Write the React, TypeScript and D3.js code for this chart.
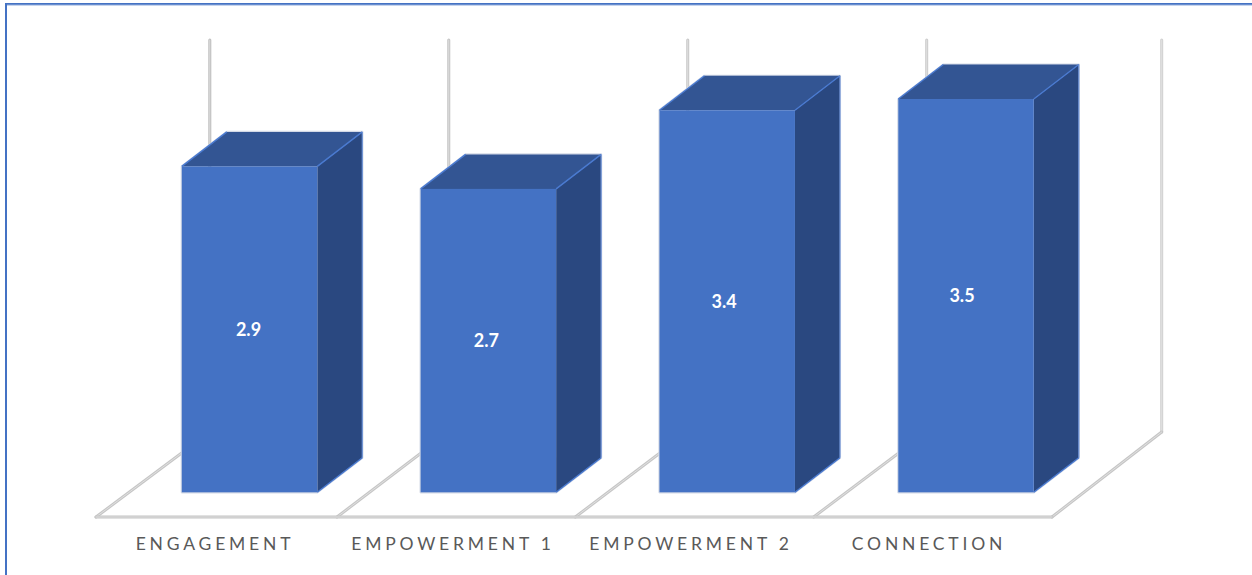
import React from "react";
import * as d3 from "d3";

const categories = ["ENGAGEMENT", "EMPOWERMENT 1", "EMPOWERMENT 2", "CONNECTION"];
const values = [2.9, 2.7, 3.4, 3.5];
const valueDomain = [0, 3.5];

const W = 1252;
const H = 575;
const DEPTH_X = 45;
const DEPTH_Y = 34.5;
const FLOOR_FRONT = 517;
const FLOOR_BACK = 432;
const WALL_TOP = 40;
const BAR_WIDTH = 135.5;

const slots = categories.map((_, i) => i);
const y = d3.scaleLinear().domain(valueDomain).range([492.3, 99]);
const barLeft = d3.scaleLinear().domain([0, 3]).range([181.8, 898.3]);
const valueX = d3.scalePoint<number>().domain(slots).range([248.5, 962]);
const labelX = d3.scalePoint<number>().domain(slots).range([215, 929]);
// The receding floor narrows toward the right, so its grid is slightly uneven.
const floorFront = d3.scaleLinear().domain([0, 1, 4]).range([96, 337, 1052]);
const floorBack = d3.scaleLinear().domain([0, 3, 4]).range([209.8, 926.7, 1161.7]);

const line = d3.line();

function Rail({ d, shade }: { d: string; shade: string }) {
  return (
    <g fill="none" strokeLinecap="round" strokeLinejoin="round">
      <path d={d} stroke={shade} strokeWidth={3} />
      <path d={d} stroke="#e6e6e6" strokeWidth={0.8} />
    </g>
  );
}

export default function App() {
  const seams = d3.range(categories.length + 1);
  const wallShade = d3.scaleLinear<string>().domain([0, 4]).range(["#bdbdbd", "#d0d0d0"]);
  return (
    <svg
      width={W}
      height={H}
      viewBox={`0 0 ${W} ${H}`}
      style={{ position: "fixed", left: 0, top: 0, background: "#fff", fontFamily: "Lato, sans-serif" }}
    >
      <path d="M6 575 V4 H1252" fill="none" stroke="#4472c4" strokeWidth={2} />
      <path d="M7 5 H1252" fill="none" stroke="#8eaadb" strokeWidth={1} />

      {seams.map((i) => (
        <Rail
          key={`wall-${i}`}
          d={line([[floorBack(i), WALL_TOP], [floorBack(i), FLOOR_BACK]]) ?? ""}
          shade={wallShade(i)}
        />
      ))}
      {seams.map((i) => (
        <Rail
          key={`seam-${i}`}
          d={line([[floorFront(i), FLOOR_FRONT], [floorBack(i), FLOOR_BACK]]) ?? ""}
          shade="#c6c6c6"
        />
      ))}
      <Rail d={line([[floorFront(0), FLOOR_FRONT], [floorFront(4), FLOOR_FRONT]]) ?? ""} shade="#c4c4c4" />

      {categories.map((c, i) => {
        const left = barLeft(i);
        const right = left + BAR_WIDTH;
        const top = y(values[i]);
        const bottom = y(0);
        const outline = `M${left} ${bottom} V${top} L${left + DEPTH_X} ${top - DEPTH_Y} H${right + DEPTH_X} V${bottom - DEPTH_Y} L${right} ${bottom} Z`;
        return (
          <g key={c}>
            <path d={outline} fill="none" stroke="#d3d9e6" strokeWidth={2.2} strokeLinejoin="round" />
            <path
              d={`M${left} ${top} L${left + DEPTH_X} ${top - DEPTH_Y} H${right + DEPTH_X} L${right} ${top} Z`}
              fill="#335593"
            />
            <path
              d={`M${right} ${top} L${right + DEPTH_X} ${top - DEPTH_Y} V${bottom - DEPTH_Y} L${right} ${bottom} Z`}
              fill="#2a4880"
            />
            <rect x={left} y={top} width={BAR_WIDTH} height={bottom - top} fill="#4472c4" />
            <path
              d={`M${left} ${top} L${left + DEPTH_X} ${top - DEPTH_Y} M${right} ${top} L${right + DEPTH_X} ${top - DEPTH_Y} M${right} ${bottom} L${right + DEPTH_X} ${bottom - DEPTH_Y}`}
              fill="none"
              stroke="#4a7ad0"
              strokeWidth={1.4}
            />
            <path
              d={`M${right + DEPTH_X} ${top - DEPTH_Y} V${bottom - DEPTH_Y}`}
              fill="none"
              stroke="#6f93d6"
              strokeWidth={1.2}
            />
            <text
              x={valueX(i)}
              y={(top + bottom) / 2 + 6.5}
              textAnchor="middle"
              fill="#fff"
              fontSize={18}
              fontWeight={700}
            >
              {values[i].toFixed(1)}
            </text>
          </g>
        );
      })}

      {categories.map((c, i) => (
        <text
          key={`label-${c}`}
          x={labelX(i)}
          y={549.5}
          textAnchor="middle"
          fill="#595959"
          fontSize={17.5}
          letterSpacing={3.8}
        >
          {c}
        </text>
      ))}
    </svg>
  );
}
